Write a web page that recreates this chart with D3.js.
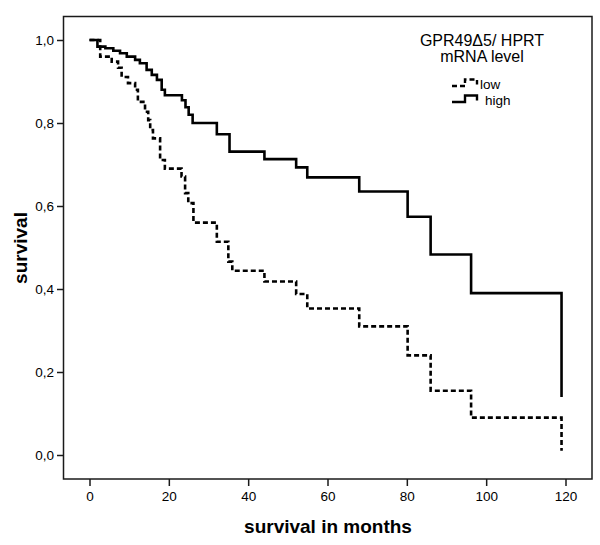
<!DOCTYPE html>
<html>
<head>
<meta charset="utf-8">
<script src="https://cdn.jsdelivr.net/npm/d3@7"></script>
<style>
  html, body { margin: 0; padding: 0; background: #fff; }
  svg { display: block; font-family: "Liberation Sans", Arial, sans-serif; }
</style>
</head>
<body>
<svg id="chart" width="600" height="545"></svg>
<script>
// ---- data ----
const highTimes  = [0, 2, 4, 6, 7.7, 9.4, 11.5, 12.7, 14.4, 15.7, 17, 18.2, 19, 23.3, 24.2, 25, 26, 32.1, 35.3, 44.1, 52.1, 54.9, 68, 80.2, 86, 96.2, 119];
const highSurv   = [1.0, 0.984, 0.98, 0.974, 0.968, 0.96, 0.952, 0.944, 0.928, 0.916, 0.904, 0.88, 0.867, 0.855, 0.838, 0.82, 0.80, 0.773, 0.731, 0.713, 0.693, 0.669, 0.635, 0.574, 0.483, 0.39, 0.14];
const lowTimes   = [0, 2.7, 5.6, 7.2, 8.1, 9.7, 11.5, 12.2, 14, 14.8, 15.3, 16, 17.8, 19, 23.2, 24.1, 24.9, 26.2, 32.1, 35, 36, 44.1, 52.1, 54.9, 68, 80.2, 86, 96.2, 119];
const lowSurv    = [1.0, 0.96, 0.948, 0.933, 0.911, 0.896, 0.88, 0.851, 0.827, 0.807, 0.783, 0.763, 0.711, 0.69, 0.671, 0.631, 0.607, 0.56, 0.514, 0.466, 0.444, 0.418, 0.388, 0.353, 0.31, 0.24, 0.155, 0.09, 0.01];
const xTicks     = [0, 20, 40, 60, 80, 100, 120];
const yTicks     = [0, 0.2, 0.4, 0.6, 0.8, 1.0];
const yTickLabels = ["0,0", "0,2", "0,4", "0,6", "0,8", "1,0"];
const legendTitle = ["GPR49\u03945/ HPRT", "mRNA level"];
const seriesNames = ["low", "high"];
const xTitle = "survival in months";
const yTitle = "survival";

// ---- layout ----
const frame = { left: 63.5, right: 592, top: 16.5, bottom: 479 };
const svg = d3.select("#chart");
const x = d3.scaleLinear().domain([0, 120]).range([89.5, 565.5]);
const y = d3.scaleLinear().domain([0, 1]).range([455, 40]);
const axisColor = "#1a1a1a";

// frame
svg.append("rect")
  .attr("x", frame.left).attr("y", frame.top)
  .attr("width", frame.right - frame.left).attr("height", frame.bottom - frame.top)
  .attr("fill", "none").attr("stroke", axisColor).attr("stroke-width", 1.5);

// x axis
const gx = svg.append("g").attr("transform", `translate(0,${frame.bottom})`)
  .call(d3.axisBottom(x).tickValues(xTicks).tickSize(7).tickPadding(5).tickFormat(d3.format("d")));
gx.select(".domain").remove();
gx.selectAll("line").attr("stroke", axisColor).attr("stroke-width", 1.5);
gx.selectAll("text").attr("font-size", "13.5px").attr("fill", "#000")
  .attr("font-family", "Liberation Sans, Arial, sans-serif");

// y axis
const gy = svg.append("g").attr("transform", `translate(${frame.left},0)`)
  .call(d3.axisLeft(y).tickValues(yTicks).tickSize(6.5).tickPadding(3)
    .tickFormat((d, i) => yTickLabels[i]));
gy.select(".domain").remove();
gy.selectAll("line").attr("stroke", axisColor).attr("stroke-width", 1.5);
gy.selectAll("text").attr("font-size", "13.5px").attr("fill", "#000")
  .attr("font-family", "Liberation Sans, Arial, sans-serif");

// axis titles
svg.append("text").attr("x", 328).attr("y", 533)
  .attr("text-anchor", "middle").attr("font-weight", "bold").attr("font-size", "19px")
  .text(xTitle);
svg.append("text").attr("transform", "translate(27,248) rotate(-90)")
  .attr("text-anchor", "middle").attr("font-weight", "bold").attr("font-size", "19px")
  .text(yTitle);

// curves
const line = d3.line().x(d => x(d[0])).y(d => y(d[1])).curve(d3.curveStepAfter);
const lowData = lowTimes.map((t, i) => [t, lowSurv[i]]);
const highData = highTimes.map((t, i) => [t, highSurv[i]]);

svg.append("path").datum(highData).attr("d", line)
  .attr("fill", "none").attr("stroke", "#000").attr("stroke-width", 2.6);
svg.append("path").datum(lowData).attr("d", line)
  .attr("fill", "none").attr("stroke", "#000").attr("stroke-width", 2.6)
  .attr("stroke-dasharray", "5,3");

// legend
svg.selectAll(".ltitle").data(legendTitle).enter().append("text")
  .attr("x", 482).attr("y", (d, i) => 46 + i * 15.5)
  .attr("text-anchor", "middle").attr("font-size", "16px").text(d => d);

const legY = [86, 102];
const legTextX = [480, 485];
legY.forEach((ly, i) => {
  svg.append("path")
    .attr("d", `M452,${ly} H465 V${ly - 6.5} H477 V${ly - 1.5}`)
    .attr("fill", "none").attr("stroke", "#000").attr("stroke-width", 2.4)
    .attr("stroke-dasharray", i === 0 ? "5,3" : null);
  svg.append("text").attr("x", legTextX[i]).attr("y", ly + 3)
    .attr("font-size", "13.5px").text(seriesNames[i]);
});
</script>
</body>
</html>
